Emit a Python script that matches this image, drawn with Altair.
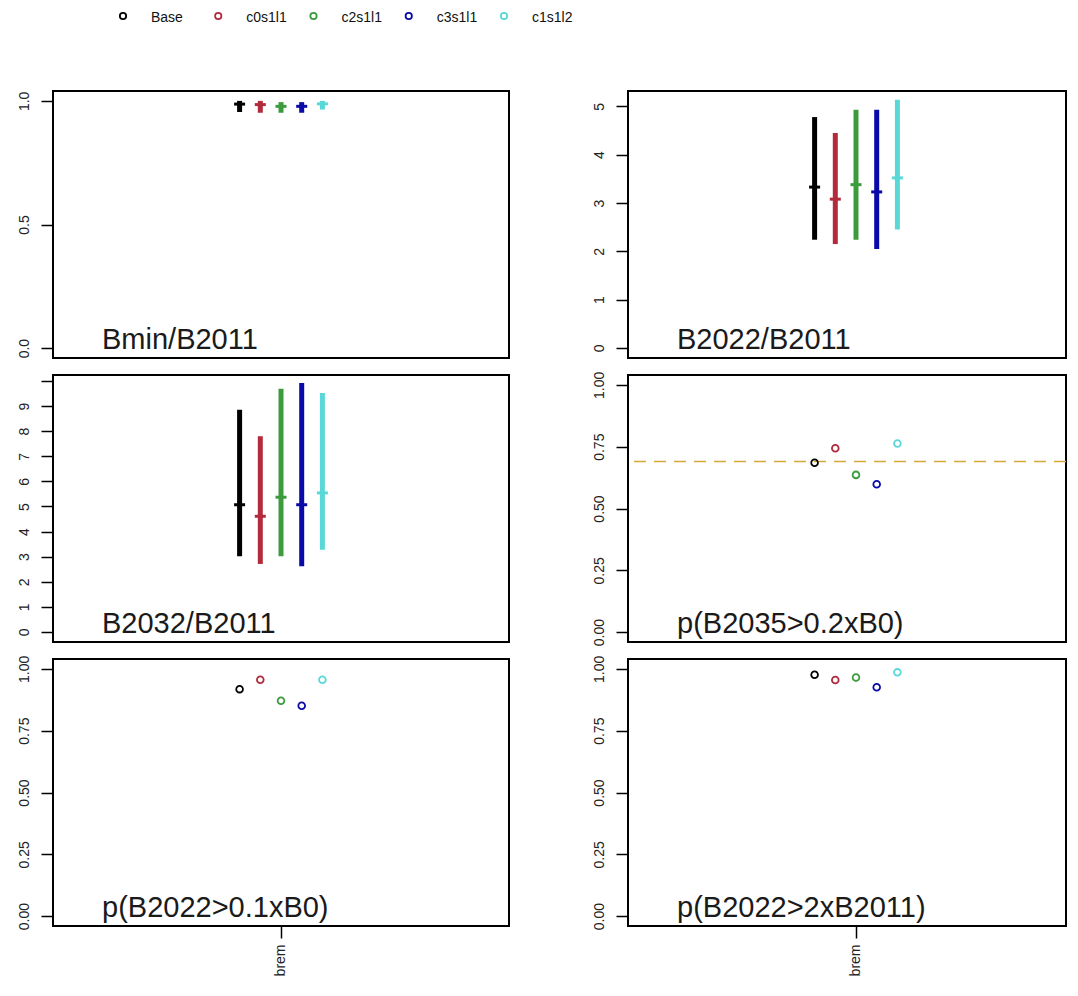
import altair as alt
import pandas as pd

SERIES = ["Base", "c0s1l1", "c2s1l1", "c3s1l1", "c1s1l2"]
COLOURS = ["#000000", "#b22a3c", "#3c9b3c", "#0a0aa8", "#5ad8d8"]
X_LABEL = "brem"

# Bmin/B2011: lower, median, upper
BMIN_LO = [0.955, 0.952, 0.952, 0.952, 0.965]
BMIN_MED = [0.987, 0.985, 0.978, 0.978, 0.988]
BMIN_HI = [1.0, 1.0, 0.995, 0.995, 1.0]

# B2022/B2011
B2022_LO = [2.24, 2.15, 2.24, 2.05, 2.45]
B2022_MED = [3.33, 3.08, 3.38, 3.23, 3.52]
B2022_HI = [4.78, 4.45, 4.93, 4.93, 5.14]

# B2032/B2011
B2032_LO = [3.02, 2.71, 3.02, 2.62, 3.28]
B2032_MED = [5.07, 4.61, 5.37, 5.07, 5.54]
B2032_HI = [8.86, 7.80, 9.69, 9.92, 9.52]

# probabilities
P_B2035_02B0 = [0.685, 0.744, 0.636, 0.598, 0.763]
P_B2035_REF = 0.69
P_B2022_01B0 = [0.918, 0.956, 0.871, 0.851, 0.956]
P_B2022_2B2011 = [0.976, 0.955, 0.965, 0.926, 0.986]

FONT = "Liberation Sans"
PANEL_H = 267
LEFT_W = 456
RIGHT_W = 438   # the original right column runs off the page edge
STEP = 20.7     # pixel spacing between the five runs
UNIT_DOMAIN = [-0.04, 1.04]
PROB_TICKS = [0, 0.25, 0.5, 0.75, 1]

colour = alt.Color("series:N", sort=SERIES,
                   scale=alt.Scale(domain=SERIES, range=COLOURS), legend=None)


def series_frame(**cols):
    df = pd.DataFrame({"series": SERIES, **cols})
    df["run"] = X_LABEL
    return df


def base_encoding(width, show_x):
    if show_x:
        axis = alt.Axis(title=None, labelAngle=-90, labelAlign="right",
                        labelBaseline="middle", labelFontSize=14, labelPadding=6)
    else:
        axis = None
    # keep the group at the same spot as in a full-width panel
    band = width / 3
    align = (LEFT_W / 2 - width / 6) / (2 * width / 3)
    return dict(
        x=alt.X("run:N", scale=alt.Scale(paddingInner=0, paddingOuter=1, align=align),
                axis=axis),
        xOffset=alt.XOffset("series:N", sort=SERIES,
                            scale=alt.Scale(type="point", padding=0,
                                            range=[band / 2 - 2 * STEP, band / 2 + 2 * STEP])),
        color=colour,
    )


def y_axis(ticks, fmt, expr=None):
    kw = dict(values=ticks, format=fmt, title=None, labelAngle=-90,
              labelAlign="center", labelBaseline="bottom", labelOverlap=False)
    if expr:
        kw["labelExpr"] = expr
    return alt.Axis(**kw)


def panel_label(text):
    return alt.Chart(pd.DataFrame({"label": [text]})).mark_text(
        align="left", baseline="alphabetic", fontSize=29, font=FONT, color="#1a1a1a"
    ).encode(x=alt.value(49), y=alt.value(PANEL_H - 9), text="label:N")


def key_layers():
    # legend drawn above the first panel
    legend_df = pd.DataFrame({"series": SERIES})
    lx = alt.X("series:N", sort=SERIES,
               scale=alt.Scale(type="point", padding=0, range=[70, 451]), axis=None)
    keys = alt.Chart(legend_df).mark_point(shape="circle", filled=False, size=40,
                                           strokeWidth=1.8, opacity=1).encode(
        x=lx, y=alt.value(-75), color=colour)
    names = alt.Chart(legend_df).mark_text(align="left", baseline="middle", dx=28, dy=2,
                                           fontSize=14, font=FONT, color="#111").encode(
        x=lx, y=alt.value(-75), text="series:N")
    return [keys, names]


def interval_panel(lo, med, hi, label, width, domain, ticks, fmt, expr=None, with_key=False):
    df = series_frame(lo=lo, med=med, hi=hi)
    enc = base_encoding(width, False)
    yscale = alt.Scale(domain=domain, nice=False, zero=False)
    axis = y_axis(ticks, fmt, expr)
    bars = alt.Chart(df).mark_rule(strokeWidth=5).encode(
        y=alt.Y("lo:Q", scale=yscale, axis=axis), y2="hi:Q", **enc)
    meds = alt.Chart(df).mark_tick(thickness=3, size=11, opacity=1).encode(
        y=alt.Y("med:Q", scale=yscale, axis=axis), **enc)
    layers = [bars, meds, panel_label(label)]
    if with_key:
        layers += key_layers()
    panel = alt.layer(*layers).properties(width=width, height=PANEL_H)
    if with_key:
        panel = panel.resolve_scale(x="independent")
    return panel


def point_panel(values, label, width, show_x=False, ref=None):
    df = series_frame(p=values)
    enc = base_encoding(width, show_x)
    pts = alt.Chart(df).mark_point(shape="circle", filled=False, size=45,
                                   strokeWidth=1.8, opacity=1).encode(
        y=alt.Y("p:Q", scale=alt.Scale(domain=UNIT_DOMAIN, nice=False, zero=False),
                axis=y_axis(PROB_TICKS, ".2f")), **enc)
    layers = []
    if ref is not None:
        layers.append(alt.Chart(pd.DataFrame({"p": [ref]})).mark_rule(
            color="#d4a93c", strokeDash=[12, 8], strokeWidth=1.5).encode(y="p:Q"))
    layers += [pts, panel_label(label)]
    return alt.layer(*layers).properties(width=width, height=PANEL_H)


panels = [
    interval_panel(BMIN_LO, BMIN_MED, BMIN_HI, "Bmin/B2011", LEFT_W,
                   UNIT_DOMAIN, [0, 0.5, 1], ".1f", with_key=True),
    interval_panel(B2022_LO, B2022_MED, B2022_HI, "B2022/B2011", RIGHT_W,
                   [-0.21, 5.32], list(range(6)), "d"),
    interval_panel(B2032_LO, B2032_MED, B2032_HI, "B2032/B2011", LEFT_W,
                   [-0.4, 10.24], list(range(11)), "d",
                   expr="datum.value == 10 ? '' : datum.label"),
    point_panel(P_B2035_02B0, "p(B2035>0.2xB0)", RIGHT_W, ref=P_B2035_REF),
    point_panel(P_B2022_01B0, "p(B2022>0.1xB0)", LEFT_W, show_x=True),
    point_panel(P_B2022_2B2011, "p(B2022>2xB2011)", RIGHT_W, show_x=True),
]

chart = alt.concat(
    *panels, columns=2, spacing={"row": 17, "column": 119}, bounds="flush"
).resolve_scale(
    x="independent", y="independent", xOffset="independent"
).properties(
    padding={"left": 7, "top": 0, "right": 0, "bottom": 0},
    background="white",
).configure_view(
    stroke="black", strokeWidth=2
).configure_axis(
    domain=False, grid=False, tickColor="black", tickWidth=1.5, tickSize=12,
    labelFont=FONT, labelFontSize=14, labelColor="#222", labelPadding=10
)

chart.save("out.html", embed_options={"renderer": "svg", "actions": False})
